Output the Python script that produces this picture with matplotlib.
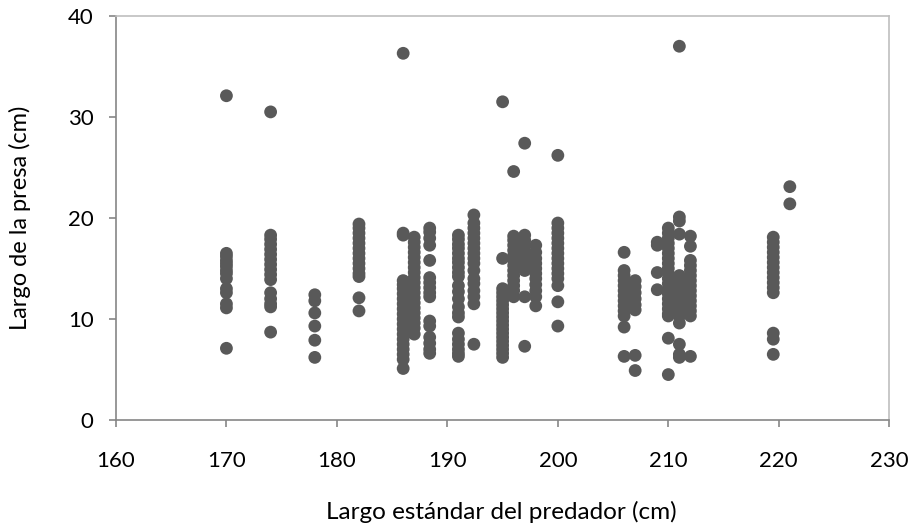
import matplotlib
matplotlib.use("Agg")
import matplotlib.pyplot as plt
import numpy as np

# predator standard length (cm) for each column of points
col_x = [170, 174, 178, 182, 186, 187, 188.4, 191, 192.4, 195, 196, 197, 198, 200,
         206, 207, 209, 210, 211, 212, 219.5, 221]

# prey length (cm) read per column
col_y = [
    [32.1, 16.5, 16.2, 15.8, 15.5, 15.2, 14.8, 14.5, 14.0, 13.0, 12.6, 11.5, 11.1, 7.1],
    [30.5, 18.3, 17.9, 17.4, 16.9, 16.4, 15.9, 15.4, 14.9, 14.4, 13.9, 12.6, 12.0, 11.5, 11.2, 8.7],
    [12.4, 11.8, 10.6, 9.3, 7.9, 6.2],
    [19.4, 19.0, 18.5, 18.0, 17.5, 17.0, 16.5, 16.0, 15.5, 15.0, 14.5, 14.2, 12.1, 10.8],
    [36.3, 18.5, 18.3, 13.8, 13.4, 13.0, 12.5, 12.0, 11.5, 11.0, 10.5, 10.0, 9.5, 9.0,
     8.5, 8.0, 7.5, 7.0, 6.5, 6.0, 5.1],
    [18.1, 17.6, 17.1, 16.6, 16.1, 15.6, 15.1, 14.6, 14.1, 13.6, 13.1, 12.6, 12.1,
     11.6, 11.1, 10.6, 10.1, 9.6, 9.1, 8.5],
    [19.0, 18.6, 18.0, 17.3, 15.8, 14.1, 13.6, 13.1, 12.6, 12.2, 9.8, 9.3, 8.2, 7.6, 7.0, 6.6],
    [18.3, 17.9, 17.4, 17.0, 16.5, 16.0, 15.6, 15.1, 14.6, 14.2, 13.3, 12.7, 12.0, 11.2,
     10.6, 10.2, 8.6, 8.0, 7.5, 7.0, 6.6, 6.3],
    [20.3, 19.5, 19.0, 18.5, 18.0, 17.5, 17.0, 16.5, 16.0, 15.5, 14.8, 14.0, 13.5, 12.8,
     12.2, 11.5, 7.5],
    [31.5, 16.0, 13.0, 12.6, 12.2, 11.8, 11.4, 11.0, 10.6, 10.2, 9.8, 9.4, 9.0, 8.6,
     8.2, 7.8, 7.4, 7.0, 6.6, 6.2],
    [24.6, 18.2, 17.8, 17.3, 16.8, 16.3, 15.8, 15.3, 14.8, 14.3, 13.8, 13.3, 12.8, 12.2],
    [27.4, 18.3, 17.8, 17.3, 16.8, 16.3, 15.8, 15.3, 14.8, 12.2, 7.3],
    [17.3, 16.6, 16.0, 15.5, 15.0, 14.5, 14.0, 13.4, 12.8, 12.2, 11.3],
    [26.2, 19.5, 19.0, 18.5, 18.0, 17.5, 17.0, 16.5, 16.0, 15.5, 15.0, 14.5, 14.0,
     13.3, 11.7, 9.3],
    [16.6, 14.8, 14.3, 13.8, 13.3, 12.8, 12.3, 11.8, 11.3, 10.8, 10.3, 9.2, 6.3],
    [13.8, 13.2, 12.6, 12.0, 11.4, 10.9, 6.4, 4.9],
    [17.6, 17.3, 14.6, 12.9],
    [19.0, 18.5, 18.0, 17.5, 17.0, 16.5, 16.0, 15.5, 15.0, 14.5, 14.0, 13.5, 13.0,
     12.5, 12.0, 11.5, 11.0, 10.5, 10.3, 8.1, 4.5],
    [37.0, 20.1, 19.7, 18.4, 14.3, 13.8, 13.3, 12.8, 12.3, 11.8, 11.3, 10.8, 10.3,
     9.6, 7.5, 6.5, 6.2],
    [18.2, 17.2, 15.8, 15.3, 14.8, 14.3, 13.8, 13.3, 12.8, 12.3, 11.8, 11.3, 10.8,
     10.3, 6.3],
    [18.1, 17.6, 17.1, 16.6, 16.1, 15.6, 15.1, 14.6, 14.1, 13.6, 13.1, 12.6, 8.6, 8.0, 6.5],
    [23.1, 21.4],
]

x = np.concatenate([[cx] * len(cy) for cx, cy in zip(col_x, col_y)])
y = np.concatenate(col_y)

plt.rcParams['font.family'] = ['Lato', 'DejaVu Sans']

fig = plt.figure(figsize=(9.13, 5.31), dpi=100)
ax = fig.add_axes([0.127, 0.209, 0.847, 0.761])

ax.scatter(x, y, s=85, color='#595959', edgecolors='none', zorder=3)

ax.set_xlim(160, 230)
ax.set_ylim(0, 40)
ax.set_xticks(np.arange(160, 231, 10))
ax.set_yticks(np.arange(0, 41, 10))

for side in ['left', 'bottom']:
    ax.spines[side].set_color('#868686')
    ax.spines[side].set_linewidth(1.2)
for side in ['top', 'right']:
    ax.spines[side].set_color('#bfbfbf')
    ax.spines[side].set_linewidth(1.2)

ax.tick_params(direction='out', length=5, width=1.2, color='#868686',
               labelsize=16, labelcolor='black')
ax.tick_params(axis='x', pad=17)
ax.tick_params(axis='y', pad=11)

ax.set_xlabel('Largo estándar del predador (cm)', fontsize=17.5, va='center')
ax.set_ylabel('Largo de la presa (cm)', fontsize=17, va='center')
ax.xaxis.set_label_coords(0.498, -0.228)
ax.yaxis.set_label_coords(-0.124, 0.5)

fig.savefig('out.png', dpi=100)
